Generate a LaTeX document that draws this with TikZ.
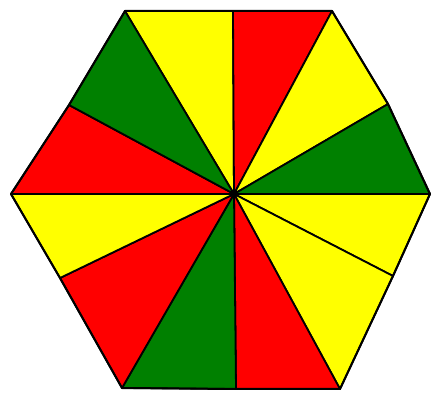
\documentclass[tikz,border=0pt]{standalone}
\usepackage{tikz}
\definecolor{wedgered}{RGB}{255,0,0}
\definecolor{wedgeyellow}{RGB}{255,255,0}
\definecolor{wedgegreen}{RGB}{0,128,0}
\begin{document}
\begin{tikzpicture}[x=1pt, y=-1pt, line join=round]
  \useasboundingbox (0,0) rectangle (432,393);
  \coordinate (c) at (234,194);
  \coordinate (p1) at (125,11);
  \coordinate (p2) at (233,11);
  \coordinate (p3) at (332,11);
  \coordinate (p4) at (388,104);
  \coordinate (p5) at (430,194);
  \coordinate (p6) at (393,276);
  \coordinate (p7) at (340,389);
  \coordinate (p8) at (236,389);
  \coordinate (p9) at (122,388);
  \coordinate (p10) at (60,278);
  \coordinate (p11) at (11,194);
  \coordinate (p12) at (69,105);
  % twelve wedges round the centre
  \foreach \a/\b/\col in {p1/p2/wedgeyellow, p2/p3/wedgered, p3/p4/wedgeyellow,
      p4/p5/wedgegreen, p5/p6/wedgeyellow, p6/p7/wedgeyellow, p7/p8/wedgered,
      p8/p9/wedgegreen, p9/p10/wedgered, p10/p11/wedgeyellow, p11/p12/wedgered,
      p12/p1/wedgegreen}
    \filldraw[fill=\col, draw=black, line width=1.8pt] (c) -- (\a) -- (\b) -- cycle;
  \draw[line width=2pt] (p1) -- (p2) -- (p3) -- (p4) -- (p5) -- (p6) -- (p7)
    -- (p8) -- (p9) -- (p10) -- (p11) -- (p12) -- cycle;
\end{tikzpicture}
\end{document}
